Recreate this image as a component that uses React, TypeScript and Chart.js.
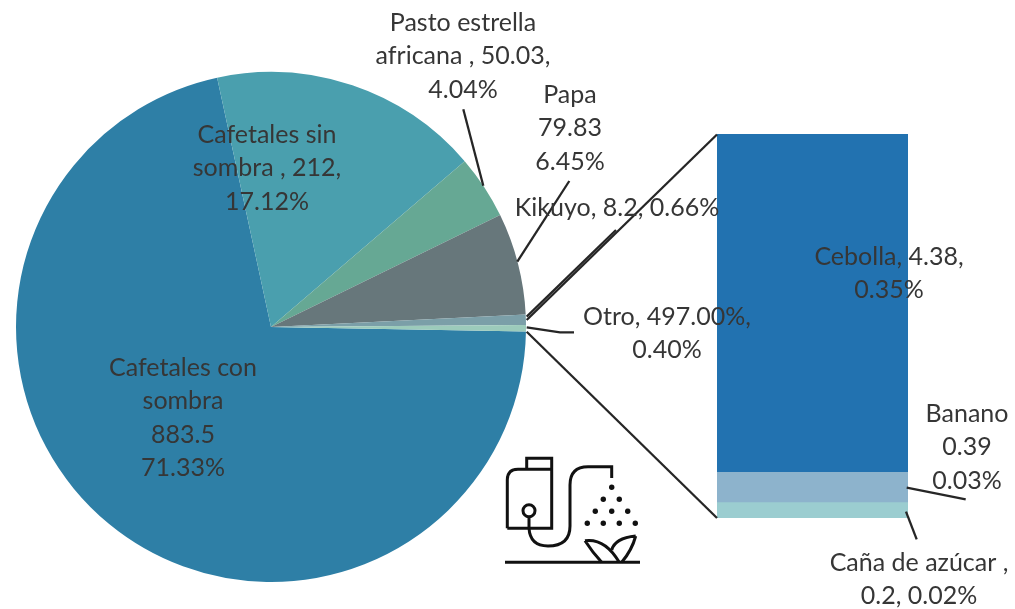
import React, { useEffect, useRef } from "react";
import { Chart, registerables } from "chart.js";

Chart.register(...registerables);

const pieCategories = ["Cafetales con sombra", "Cafetales sin sombra", "Pasto estrella africana", "Papa", "Kikuyo", "Otro"];
const pieValues = [883.5, 212, 50.03, 79.83, 8.2, 4.97];
const pieColors = ["#2E7FA6", "#4A9FAE", "#66A894", "#67777B", "#7B9FA8", "#9CCBBB"];

const barCategories = ["Cebolla", "Banano", "Caña de azúcar"];
const barValues = [4.38, 0.39, 0.2];
const barColors = ["#2272B0", "#8DB3CC", "#9BCDD0"];

const FONT = '25px Lato, "Open Sans", sans-serif';
const TEXT = "#363636";

type Label = { x: number; y: number; lines: string[] };
const labels: Label[] = [
  { x: 463, y: 23, lines: ["Pasto estrella", "africana , 50.03,", "4.04%"] },
  { x: 570, y: 95, lines: ["Papa", "79.83", "6.45%"] },
  { x: 617, y: 208, lines: ["Kikuyo, 8.2, 0.66%"] },
  { x: 667, y: 317, lines: ["Otro, 497.00%,", "0.40%"] },
  { x: 889, y: 257, lines: ["Cebolla, 4.38,", "0.35%"] },
  { x: 967, y: 414, lines: ["Banano", "0.39", "0.03%"] },
  { x: 919, y: 563, lines: ["Caña de azúcar ,", "0.2, 0.02%"] },
  { x: 267, y: 135, lines: ["Cafetales sin", "sombra , 212,", "17.12%"] },
  { x: 183, y: 368, lines: ["Cafetales con", "sombra", "883.5", "71.33%"] },
];

const leaders: number[][][] = [
  [[463.3, 109.3], [483.3, 185.7]],
  [[569.3, 181], [517.3, 261.7]],
  [[616, 230], [526.7, 316.7]],
  [[526.7, 327.3], [560, 332.3], [574, 332.3]],
  [[526.7, 320], [717, 134.5]],
  [[526.7, 331.7], [717, 518]],
  [[906.7, 487.7], [965.7, 499.3]],
  [[906, 511.7], [916.7, 539.3]],
];

const annotationPlugin = {
  id: "annotations",
  afterDatasetsDraw(chart: Chart) {
    const ctx = chart.ctx;
    ctx.save();
    ctx.strokeStyle = "#262626";
    ctx.lineWidth = 2.3;
    for (const pts of leaders) {
      ctx.beginPath();
      pts.forEach(([x, y], i) => (i ? ctx.lineTo(x, y) : ctx.moveTo(x, y)));
      ctx.stroke();
    }
    ctx.fillStyle = TEXT;
    ctx.font = FONT;
    ctx.textAlign = "center";
    ctx.textBaseline = "middle";
    for (const l of labels) {
      l.lines.forEach((t, i) => ctx.fillText(t, l.x, l.y + i * 33.4));
    }
    ctx.restore();
  },
};

const canvasStyle: React.CSSProperties = { position: "absolute", left: 0, top: 0, width: 1015, height: 609 };
const dots = [
  [611.7, 487.3], [603.3, 499.3], [619.3, 499.3], [595.3, 511.3], [611.7, 511.3], [627.7, 511.3],
  [587.3, 523.3], [603.3, 523.3], [619.3, 523.3], [635.3, 523.3],
];

export default function App() {
  const pieRef = useRef<HTMLCanvasElement>(null);
  const barRef = useRef<HTMLCanvasElement>(null);

  useEffect(() => {
    const pie = new Chart(pieRef.current!, {
      type: "pie",
      data: {
        labels: pieCategories,
        datasets: [{ data: pieValues, backgroundColor: pieColors, borderWidth: 0 }],
      },
      options: {
        animation: false,
        responsive: false,
        rotation: 91,
        layout: { padding: { left: 16, right: 489, top: 72, bottom: 27 } },
        plugins: { legend: { display: false }, tooltip: { enabled: false } },
      },
    });
    const bar = new Chart(barRef.current!, {
      type: "bar",
      data: {
        labels: ["Otro"],
        datasets: barCategories.map((name, i) => ({
          label: name,
          data: [barValues[i]],
          backgroundColor: barColors[i],
          borderWidth: 0,
          barPercentage: 1,
          categoryPercentage: 1,
        })).reverse(),
      },
      options: {
        animation: false,
        responsive: false,
        layout: { padding: { left: 717, right: 107, top: 134, bottom: 91 } },
        scales: {
          x: { stacked: true, display: false },
          y: { stacked: true, display: false, min: 0, max: 4.97 },
        },
        plugins: { legend: { display: false }, tooltip: { enabled: false } },
      },
      plugins: [annotationPlugin],
    });
    return () => {
      pie.destroy();
      bar.destroy();
    };
  }, []);

  return (
    <div style={{ position: "absolute", left: 0, top: 0, width: 1015, height: 609, background: "#fff", overflow: "hidden" }}>
      <canvas ref={pieRef} width={1015} height={609} style={canvasStyle} />
      <canvas ref={barRef} width={1015} height={609} style={canvasStyle} />
      <svg width={1015} height={609} style={canvasStyle} fill="none" stroke="#111" strokeWidth={3}>
        <path d="M505 562.3H640" />
        <path d="M507.3 528.3V480Q507.3 469.3 518 469.3H551.7V528.3H507.3M526.7 469.3V458.3H551.7V469.3" />
        <circle cx={529} cy={510.7} r={6} />
        <path d="M529 516.7V528Q530 546 548 546Q570 546 570 526V485Q570 466.7 588 466.7H611.7V478" />
        <path d="M585 540.7Q605 538 619.3 562.3M585 540.7Q593 553 601.7 562.3" />
        <path d="M635.7 536Q615 538 611.7 550M635.7 536Q632 550 621.7 562.3" />
        {dots.map(([x, y], i) => (
          <circle key={i} cx={x} cy={y} r={2.7} fill="#111" stroke="none" />
        ))}
      </svg>
    </div>
  );
}
